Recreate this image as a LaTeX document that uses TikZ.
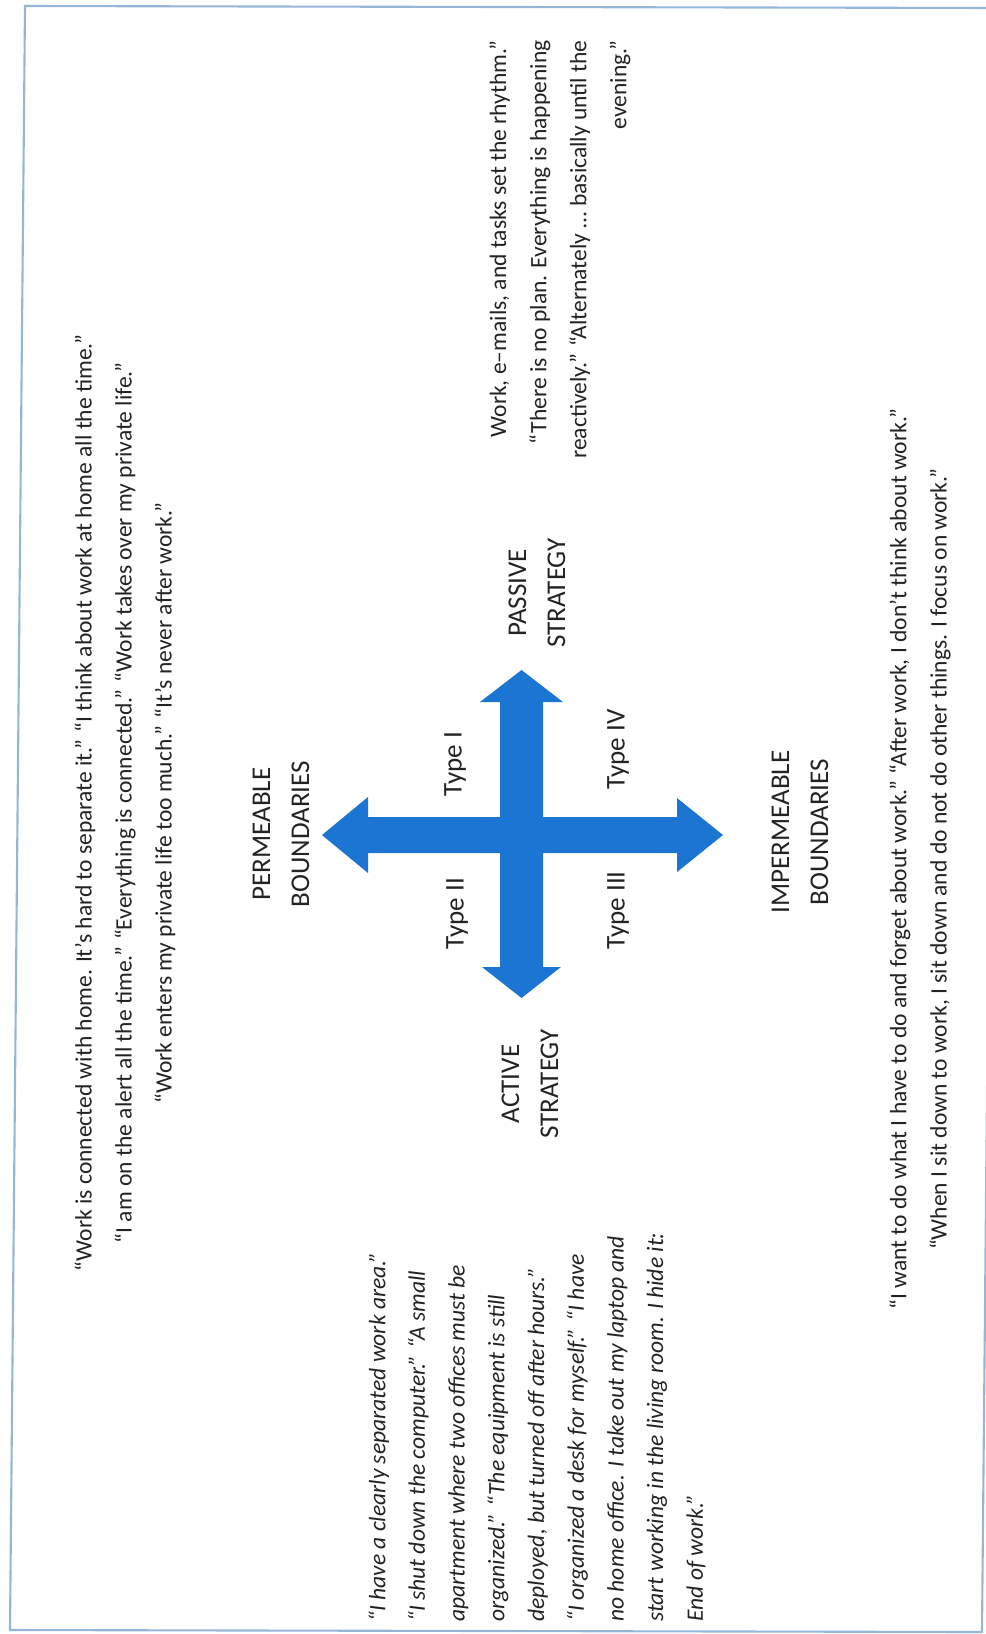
\documentclass[tikz,border=0pt]{standalone}
\usepackage{fontspec}
\setmainfont{Carlito}
\usepackage{tikz}
\usetikzlibrary{positioning,calc}
\definecolor{arrowblue}{RGB}{28,117,210}
\definecolor{frameblue}{RGB}{150,182,215}
\definecolor{txt}{RGB}{35,35,35}

\begin{document}
\begin{tikzpicture}[x=0.02cm, y=-0.02cm,
   quote/.style={rotate=90, inner sep=0pt, text=txt, font=\fontsize{13.4}{22.8}\selectfont},
   lbl/.style={rotate=90, inner sep=0pt, text=txt, align=center, font=\fontsize{15.4}{22.2}\selectfont},
   typ/.style={rotate=90, inner sep=0pt, text=txt, anchor=west, font=\fontsize{15.4}{18}\selectfont}]
  \useasboundingbox (0,0) rectangle (986,1634);
  \draw[frameblue, line width=1.2pt] (25,6) -- (10,1630) -- (982,1632) -- (997,8) -- cycle;

  % the cross of arrows
  \coordinate (c) at (521.5,835);
  \fill[arrowblue] (500,702) -- (480,702) -- (521.5,670) -- (563,702) -- (543,702)
     -- (543,967) -- (561,967) -- (521.5,998) -- (482,967) -- (500,967) -- cycle;
  \fill[arrowblue] (368,817) -- (368,797) -- (322,835) -- (368,873) -- (368,853)
     -- (677,853) -- (677,872) -- (723,835) -- (677,798) -- (677,817) -- cycle;

  \node[lbl] (perm) at (281,834) {PERMEABLE\\BOUNDARIES};
  \node[lbl] (imperm) at (800,832) {IMPERMEABLE\\BOUNDARIES};
  \node[lbl] (passive) at (537,593) {PASSIVE\\STRATEGY};
  \node[lbl] (active) at (530,1084) {ACTIVE\\STRATEGY};

  \node[typ] (t1) at (455,797) {Type I};
  \node[typ] (t2) at (457,950) {Type II};
  \node[typ] (t3) at (618,950) {Type III};
  \node[typ] (t4) at (618,790) {Type IV};

  % quotes
  \node[quote, align=center] (qperm) at (125,803)
    {“Work is connected with home. It’s hard to separate it.” “I think about work at home all the time.”\\
     “I am on the alert all the time.” “Everything is connected.” “Work takes over my private life.”\\
     “Work enters my private life too much.” “It’s never after work.”};
  \node[quote, align=right, anchor=east] (qpass) at (560,40)
    {Work, e–mails, and tasks set the rhythm.”\\
     “There is no plan. Everything is happening\\
     reactively.” “Alternately … basically until the\\
     evening.”};
  \node[quote, align=center] (qimperm) at (920,859)
    {“I want to do what I have to do and forget about work.” “After work, I don’t think about work.”\\
     “When I sit down to work, I sit down and do not do other things. I focus on work.”};
  \node[quote, align=left, anchor=west, font=\fontsize{13.4}{22.6}\selectfont\itshape] (qact) at (537,1622)
    {“I have a clearly separated work area.”\\
     “I shut down the computer.” “A small\\
     apartment where two offices must be\\
     organized.” “The equipment is still\\
     deployed, but turned off after hours.”\\
     “I organized a desk for myself.” “I have\\
     no home office. I take out my laptop and\\
     start working in the living room. I hide it:\\
     End of work.”};
\end{tikzpicture}
\end{document}
